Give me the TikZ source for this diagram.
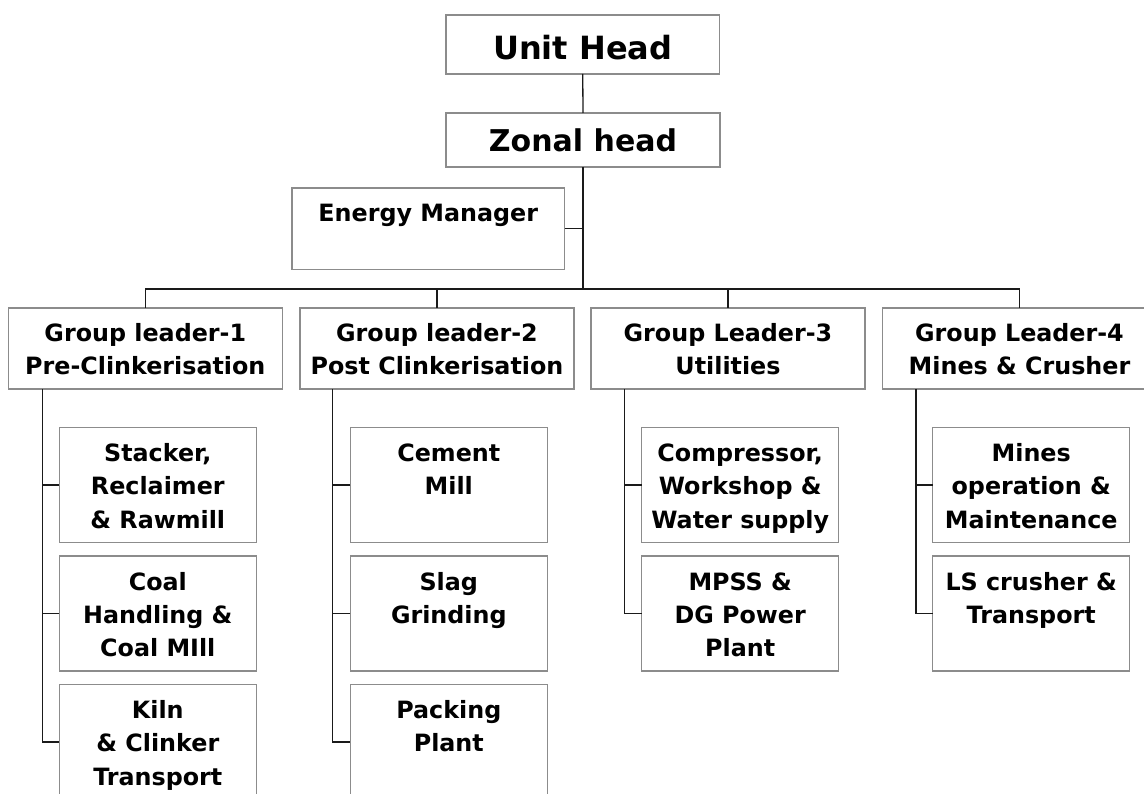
\documentclass[tikz,border=0pt]{standalone}
\usepackage{fontspec}
\setmainfont{DejaVu Sans}
\usetikzlibrary{calc}
\definecolor{boxgray}{HTML}{8C8C8C}
\definecolor{linecol}{HTML}{1A1A1A}
\newcommand{\bxt}[4]{\parbox[c][#2pt][t]{#1pt}{\centering\rule{0pt}{#3pt}#4\par}}
\tikzset{
  box/.style={draw=boxgray, line width=1.2pt, inner sep=0pt, outer sep=0pt, anchor=north west,
    font=\bfseries\fontsize{23.8}{33.3}\selectfont},
  conn/.style={draw=linecol, line width=1.3pt}
}
\begin{document}
\begin{tikzpicture}[x=1pt,y=-1pt]
\useasboundingbox (0,0) rectangle (1144,794);
\clip (0,0) rectangle (1144,794);
% top
\node[box] (uh) at (446,15) {\bxt{273.5}{59}{44.5}{\fontsize{32}{36}\selectfont Unit Head}};
\node[box] (zh) at (446,113) {\bxt{274}{54}{39}{\fontsize{30}{34}\selectfont Zonal head}};
\node[box] (em) at (292,188) {\bxt{272.5}{81.5}{33.5}{Energy Manager}};
% group leaders
\node[box] (g1) at (8.3,308) {\bxt{274}{81}{33.5}{Group leader-1\\Pre-Clinkerisation}};
\node[box] (g2) at (300,308) {\bxt{274}{81}{33.5}{Group leader-2\\Post Clinkerisation}};
\node[box] (g3) at (591,308) {\bxt{274}{81}{33.5}{Group Leader-3\\Utilities}};
\node[box] (g4) at (882.5,308) {\bxt{274}{81}{33.5}{Group Leader-4\\Mines \& Crusher}};
% sub units group 1
\node[box] (a1) at (59.3,427.5) {\bxt{197}{115}{34}{Stacker,\\Reclaimer\\\& Rawmill}};
\node[box] (a2) at (59.3,556) {\bxt{197}{115}{34}{Coal\\Handling \&\\Coal MIll}};
\node[box] (a3) at (59.3,684.5) {\bxt{197}{115}{34}{Kiln\\\& Clinker\\Transport}};
% group 2
\node[box] (b1) at (350.3,427.5) {\bxt{197}{115}{34}{Cement\\Mill}};
\node[box] (b2) at (350.3,556) {\bxt{197}{115}{34}{Slag\\Grinding}};
\node[box] (b3) at (350.3,684.5) {\bxt{197}{115}{34}{Packing\\Plant}};
% group 3
\node[box] (c1) at (641.7,427.5) {\bxt{197}{115}{34}{Compressor,\\Workshop \&\\Water supply}};
\node[box] (c2) at (641.7,556) {\bxt{197}{115}{34}{MPSS \&\\DG Power\\Plant}};
% group 4
\node[box] (d1) at (932.7,427.5) {\bxt{197}{115}{34}{Mines\\operation \&\\Maintenance}};
\node[box] (d2) at (932.7,556) {\bxt{197}{115}{34}{LS crusher \&\\Transport}};
% connectors
\coordinate (bus) at (582.5,289);
\draw[conn] (uh.south) -- (zh.north);
\draw[conn] (zh.south) -- (zh.south |- bus);
\draw[conn] (em.east) -- (em.east -| zh.south);
\draw[conn] (g1.north) -- (g1.north |- bus) -- (g4.north |- bus) -- (g4.north);
\draw[conn] (g2.north) -- (g2.north |- bus);
\draw[conn] (g3.north) -- (g3.north |- bus);
% trunks
\coordinate (t1) at ([xshift=34.4pt]g1.south west);
\coordinate (t2) at ([xshift=32.7pt]g2.south west);
\coordinate (t3) at ([xshift=33.3pt]g3.south west);
\coordinate (t4) at ([xshift=33.5pt]g4.south west);
\draw[conn] (t1) |- (a3.west);
\draw[conn] (a1.west) -- (a1.west -| t1);
\draw[conn] (a2.west) -- (a2.west -| t1);
\draw[conn] (t2) |- (b3.west);
\draw[conn] (b1.west) -- (b1.west -| t2);
\draw[conn] (b2.west) -- (b2.west -| t2);
\draw[conn] (t3) |- (c2.west);
\draw[conn] (c1.west) -- (c1.west -| t3);
\draw[conn] (t4) |- (d2.west);
\draw[conn] (d1.west) -- (d1.west -| t4);
\end{tikzpicture}
\end{document}
